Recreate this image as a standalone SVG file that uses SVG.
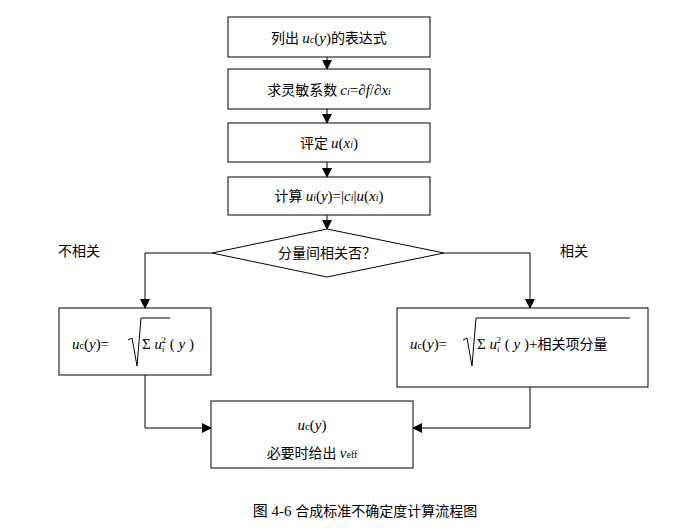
<svg xmlns="http://www.w3.org/2000/svg" width="699" height="532" viewBox="0 0 699 532">
<style>
.b{fill:#fff;stroke:#000;stroke-width:1}
.t{font-family:"Liberation Serif","Noto Sans CJK SC",serif;font-size:15px;fill:#000}
.c{font-family:"Noto Sans CJK SC",sans-serif;font-size:14px}
.i{font-style:italic}
.l{fill:none;stroke:#000;stroke-width:1}
</style>
<defs><marker id="a" markerWidth="10" markerHeight="10" refX="9" refY="5" orient="auto" markerUnits="userSpaceOnUse"><path d="M0,0L10,5L0,10z"/></marker></defs>
<rect width="699" height="532" fill="#fff"/>
<g id="connectors" class="l">
<line x1="327" y1="57" x2="327" y2="69" marker-end="url(#a)"/>
<line x1="327" y1="109" x2="327" y2="123" marker-end="url(#a)"/>
<line x1="327" y1="162" x2="327" y2="177" marker-end="url(#a)"/>
<line x1="327" y1="215" x2="327" y2="229" marker-end="url(#a)"/>
<polyline points="212,253 145,253 145,308" marker-end="url(#a)"/>
<polyline points="444,253 530,253 530,308" marker-end="url(#a)"/>
<polyline points="145,375 145,428 211,428" marker-end="url(#a)"/>
<polyline points="530,387 530,428 413,428" marker-end="url(#a)"/>
</g>
<g id="n1"><rect class="b" x="228" y="17" width="202" height="40"/><text class="t" x="329" y="43" text-anchor="middle"><tspan class="c">列出 </tspan><tspan class="i">u</tspan><tspan font-size="10">c</tspan>(<tspan class="i">y</tspan>)<tspan class="c">的表达式</tspan></text></g>
<g id="n2"><rect class="b" x="228" y="69" width="202" height="40"/><text class="t" x="329" y="95" text-anchor="middle"><tspan class="c" font-size="16">求灵敏系数 </tspan><tspan class="i">c<tspan font-size="10">i</tspan></tspan>=∂<tspan class="i">f</tspan>/∂<tspan class="i">x<tspan font-size="10">i</tspan></tspan></text></g>
<g id="n3"><rect class="b" x="228" y="123" width="202" height="39"/><text class="t" x="329" y="148" text-anchor="middle"><tspan class="c">评定 </tspan><tspan class="i">u</tspan>(<tspan class="i">x<tspan font-size="10">i</tspan></tspan>)</text></g>
<g id="n4"><rect class="b" x="228" y="177" width="202" height="38"/><text class="t" x="329" y="201" text-anchor="middle"><tspan class="c">计算 </tspan><tspan class="i">u<tspan font-size="10">i</tspan></tspan>(<tspan class="i">y</tspan>)=|<tspan class="i">c<tspan font-size="10">i</tspan></tspan>|<tspan class="i">u</tspan>(<tspan class="i">x<tspan font-size="10">i</tspan></tspan>)</text></g>
<g id="d"><polygon class="b" points="327,229 444,253 327,277 212,253"/><text class="t c" x="327" y="258" text-anchor="middle">分量间相关否？</text></g>
<text class="t c" x="58" y="256">不相关</text>
<text class="t c" x="560" y="256">相关</text>
<g id="nl"><rect class="b" x="59" y="308" width="152" height="67"/>
<text class="t" x="72" y="349"><tspan class="i">u</tspan><tspan font-size="10">c</tspan>(<tspan class="i">y</tspan>)=</text>
<path class="l" d="M128,340 L132,338 L137,366 L141,318 L170,318"/>
<text class="t" x="142" y="349" font-size="13">Σ <tspan class="i">u</tspan><tspan class="i" font-size="9" dy="3">i</tspan><tspan font-size="9" dx="-3" dy="-9">2</tspan><tspan dy="6"> ( </tspan><tspan class="i">y</tspan> )</text></g>
<g id="nr"><rect class="b" x="397" y="308" width="251" height="79"/>
<text class="t" x="410" y="349"><tspan class="i">u</tspan><tspan font-size="10">c</tspan>(<tspan class="i">y</tspan>)=</text>
<path class="l" d="M463,340 L467,338 L472,366 L476,318 L630,318"/>
<text class="t" x="477" y="349" font-size="13">Σ <tspan class="i">u</tspan><tspan class="i" font-size="9" dy="3">i</tspan><tspan font-size="9" dx="-3" dy="-9">2</tspan><tspan dy="6"> ( </tspan><tspan class="i">y</tspan> )+<tspan class="c" font-size="13">相关项分量</tspan></text></g>
<g id="nb"><rect class="b" x="211" y="401" width="202" height="67"/>
<text class="t" x="312" y="430" text-anchor="middle" font-size="17"><tspan class="i">u</tspan><tspan font-size="11">c</tspan>(<tspan class="i">y</tspan>)</text>
<text class="t" x="312" y="458" text-anchor="middle"><tspan class="c">必要时给出 </tspan><tspan class="i">ν</tspan><tspan font-size="10">eff</tspan></text></g>
<text class="t" x="365" y="516" text-anchor="middle" font-size="16">图 4-6  <tspan class="c" font-size="15">合成标准不确定度计算流程图</tspan></text>
</svg>
